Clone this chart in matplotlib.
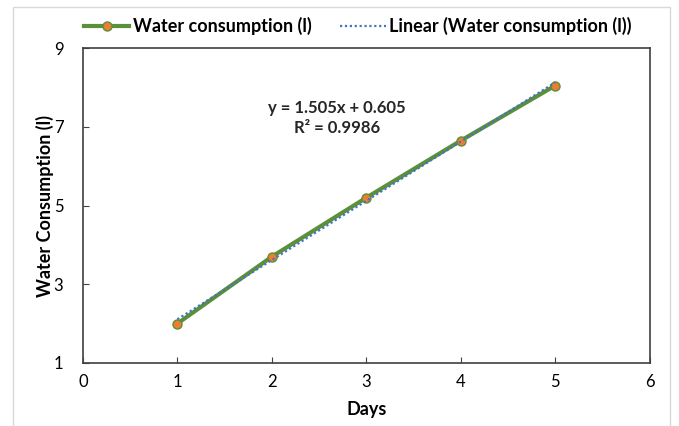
import numpy as np
import matplotlib.pyplot as plt
from matplotlib.patches import Rectangle

plt.rcParams['font.family'] = ['Lato', 'DejaVu Sans']

days = [1, 2, 3, 4, 5]
water = [2.0, 3.7, 5.2, 6.65, 8.05]
series_label = 'Water consumption (l)'
trend_label = 'Linear (Water consumption (l))'

fig = plt.figure(figsize=(6.79, 4.26), dpi=100)
ax = fig.add_axes([0.122, 0.148, 0.835, 0.739])

# outer chart border
fig.patches.append(Rectangle((0.019, -0.05), 0.968, 1.034, transform=fig.transFigure,
                             fill=False, edgecolor='#d9d9d9', lw=1))

slope, intercept = np.polyfit(days, water, 1)
fit = np.polyval([slope, intercept], days)
r2 = 1 - np.sum((np.array(water) - fit) ** 2) / np.sum((np.array(water) - np.mean(water)) ** 2)

ax.plot(days, water, color='#5b8f3a', lw=3, marker='o', markersize=6.5,
        markerfacecolor='#ed7d31', markeredgecolor='#5b8f3a', markeredgewidth=1,
        label=series_label, zorder=3)
ax.plot(days, fit, color='#4472c4', lw=1.6, ls=(0, (1, 1.2)), label=trend_label, zorder=4)

ax.text(2.69, 7.22, 'y = %.3fx + %.3f\nR² = %.4f' % (slope, intercept, r2),
        ha='center', va='center', fontsize=12, fontweight='bold', color='#262626',
        linespacing=1.3)

ax.set_xlim(0, 6)
ax.set_ylim(1, 9)
ax.set_xticks(range(0, 7))
ax.set_yticks([1, 3, 5, 7, 9])
ax.tick_params(axis='x', direction='in', length=4, color='#404040', labelsize=12, pad=8)
ax.tick_params(axis='y', direction='in', length=4, color='#404040', labelsize=12, pad=14)
for s in ax.spines.values():
    s.set_color('#404040')
    s.set_linewidth(1.2)

ax.set_xlabel('Days', fontsize=13, fontweight='bold', labelpad=8)
ax.set_ylabel('Water Consumption (l)', fontsize=13, fontweight='bold', labelpad=0)

ax.legend(loc='lower center', bbox_to_anchor=(0.485, 1.0), ncol=2, frameon=False,
          prop={'weight': 'bold', 'size': 13}, handlelength=2.5,
          columnspacing=1.6, handletextpad=0.2, borderaxespad=0.3)

fig.savefig('out.png', dpi=100)
